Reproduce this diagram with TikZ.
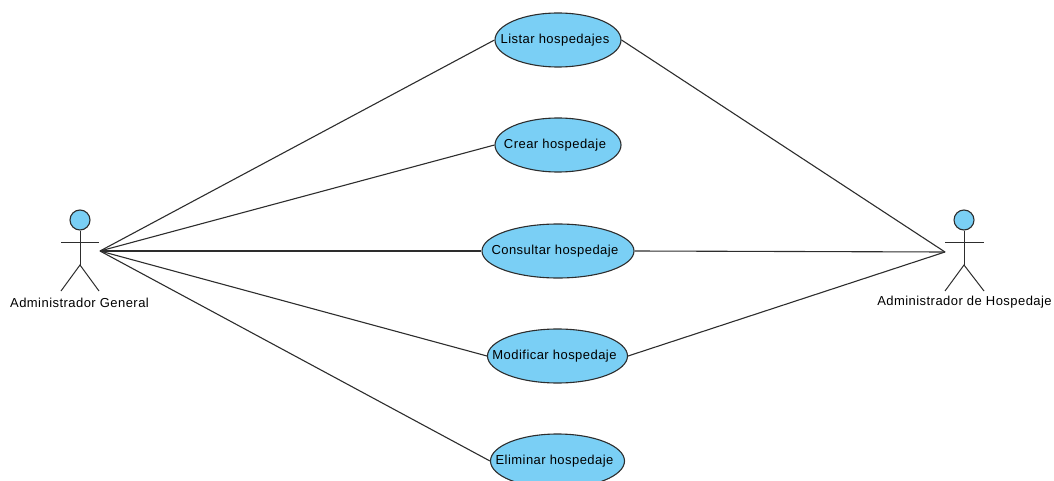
\documentclass[tikz,border=0pt]{standalone}
\usepackage{fontspec}
\setmainfont[LetterSpace=3.5]{Liberation Sans}
\usetikzlibrary{shapes.geometric}
\definecolor{ucfill}{RGB}{122,207,245}
\definecolor{ucline}{RGB}{45,45,45}
\tikzset{
  usecase/.style={ellipse,draw=ucline,fill=ucfill,line width=1.1pt,inner sep=0pt,minimum height=54pt},
  uclabel/.style={font=\fontsize{13}{15}\selectfont,text=black,inner sep=0pt,xshift=-3pt,yshift=-0.5pt},
  assoc/.style={draw=ucline,line width=1.1pt},
  actorhead/.style={circle,draw=ucline,fill=ucfill,line width=1.1pt,minimum size=20pt,inner sep=0pt},
  actorlabel/.style={font=\fontsize{13}{15}\selectfont,text=black,inner sep=0pt},
  stick/.style={draw=ucline,line width=1pt}
}
\begin{document}
\begin{tikzpicture}[x=1pt,y=-1pt]
\useasboundingbox (0,0) rectangle (1054,481);
\clip (0,0) rectangle (1054,481);
\node[usecase,minimum width=126pt,label={[uclabel]center:Listar hospedajes}] (listar) at (558,40) {};
\node[usecase,minimum width=126pt,label={[uclabel]center:Crear hospedaje}] (crear) at (558,145) {};
\node[usecase,minimum width=152pt,label={[uclabel]center:Consultar hospedaje}] (consultar) at (558,251) {};
\node[usecase,minimum width=140pt,label={[uclabel]center:Modificar hospedaje}] (modificar) at (557.5,356) {};
\node[usecase,minimum width=134pt,label={[uclabel]center:Eliminar hospedaje}] (eliminar) at (557.5,461) {};
% left actor
\node[actorhead] (headA) at (80,220) {};
\coordinate (hipA) at (80,265);
\coordinate (armLA) at (61,242);
\coordinate (armRA) at (99,242);
\coordinate (footLA) at (61,291);
\coordinate (footRA) at (99,291);
\draw[stick] (headA.south) -- (hipA);
\draw[stick] (armLA) -- (armRA);
\draw[stick] (footLA) -- (hipA) -- (footRA);
\node[actorlabel] (labelA) at (79.5,302.5) {Administrador General};
% right actor
\node[actorhead] (headB) at (964,220) {};
\coordinate (hipB) at (964,265);
\coordinate (armLB) at (945,242);
\coordinate (armRB) at (984,242);
\coordinate (footLB) at (945,291);
\coordinate (footRB) at (984,291);
\draw[stick] (headB.south) -- (hipB);
\draw[stick] (armLB) -- (armRB);
\draw[stick] (footLB) -- (hipB) -- (footRB);
\node[actorlabel] (labelB) at (964.5,302.5) {Administrador de Hospedaje};
% connectors
\coordinate (portA) at (100,251);
\coordinate (portB) at (945,252);
\draw[assoc] (portA) -- (listar.west);
\draw[assoc] (portA) -- (crear.west);
\draw[assoc] (portA) -- (consultar.west);
\draw[assoc] (portA) -- (modificar.west);
\draw[assoc] (portA) -- (eliminar.west);
\draw[assoc] (listar.east) -- (portB);
\draw[assoc] (consultar.east) -- (portB);
\draw[assoc] (modificar.east) -- (portB);
\end{tikzpicture}
\end{document}
